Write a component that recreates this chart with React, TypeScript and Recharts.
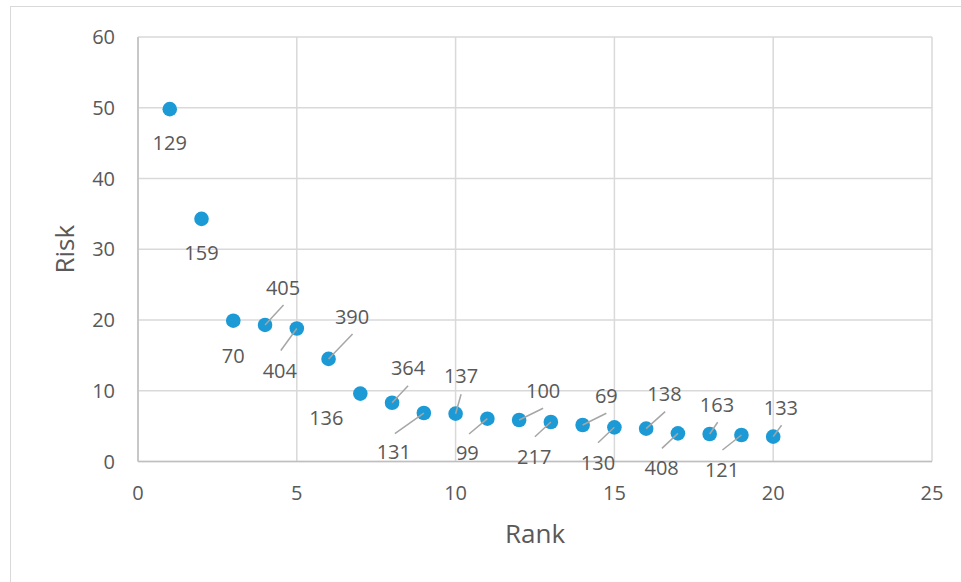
import { ScatterChart, Scatter, XAxis, YAxis, CartesianGrid, Label } from "recharts";

const ranks = [1, 2, 3, 4, 5, 6, 7, 8, 9, 10, 11, 12, 13, 14, 15, 16, 17, 18, 19, 20];
const risks = [49.8, 34.3, 19.9, 19.3, 18.8, 14.5, 9.6, 8.3, 6.85, 6.76, 6.05, 5.87, 5.58, 5.16, 4.83, 4.64, 3.98, 3.89, 3.75, 3.51];
const ids = ["129", "159", "70", "405", "404", "390", "136", "364", "131", "137", "99", "100", "217", "69", "130", "138", "408", "163", "121", "133"];
const xTicks = [0, 5, 10, 15, 20, 25];
const yTicks = [0, 10, 20, 30, 40, 50, 60];

// label placement relative to the marker (Excel moved most of them by hand)
const labelOffsets: [number, number][] = [
  [0, 34], [0, 34.5], [0, 35], [18, -37], [-17, 43], [23.5, -42], [-34, 24], [16, -35], [-30, 39], [5.5, -38],
  [-20, 34], [24, -29], [-16.7, 34.7], [23.7, -29], [-16.4, 35.4], [18.3, -34.7], [-16.3, 34.4], [7.3, -29], [-19.4, 35], [7.7, -29],
];
const leaderEnds: ([number, number] | null)[] = [
  null, null, null, [18.5, -20], [-16, 22], [24, -25], null, [16, -17], [-29, 20.5], [5.5, -19.5],
  [-18.3, 15.3], [24, -11.7], [-16, 14.7], [23.7, -11.7], [-16.4, 15.4], [19, -17], [-16, 15], [8, -11.7], [-19, 15], [8.4, -11.4],
];

const data = ranks.map((r, i) => ({ rank: r, risk: risks[i], id: ids[i] }));

const FONT = "'Open Sans', sans-serif";
const TEXT = "#595959";

function Dot(props: any) {
  const { cx, cy, payload } = props;
  const i = payload.rank - 1;
  const [dx, dy] = labelOffsets[i];
  const le = leaderEnds[i];
  return (
    <g>
      <circle cx={cx} cy={cy} r={7.3} fill="#1c9ad6" />
      {le && (
        <line x1={cx} y1={cy} x2={cx + le[0]} y2={cy + le[1]} stroke="#a6a6a6" strokeWidth={1.5} />
      )}
      <text x={cx + dx} y={cy + dy + 7} textAnchor="middle" fontSize={20} fill={TEXT} fontFamily={FONT}>
        {payload.id}
      </text>
    </g>
  );
}

export default function App() {
  return (
    <div style={{ position: "absolute", left: 0, top: 0, width: 961, height: 582, overflow: "hidden", background: "#fff" }}>
      <div
        style={{
          position: "absolute",
          left: 10,
          top: 6,
          width: 980,
          height: 600,
          border: "1.5px solid #d9d9d9",
        }}
      />
      <div style={{ position: "absolute", left: 0, top: 0 }}>
        <ScatterChart width={961} height={582} margin={{ top: 37, right: 29, bottom: 0, left: 0 }}>
          <CartesianGrid stroke="#d9d9d9" strokeWidth={1.5} />
          <XAxis
            type="number"
            dataKey="rank"
            domain={[0, 25]}
            ticks={xTicks}
            height={120.5}
            tickLine={false}
            tickSize={0}
            tickMargin={24}
            axisLine={{ stroke: "#bfbfbf", strokeWidth: 1.5 }}
            tick={{ fill: TEXT, fontSize: 20, fontFamily: FONT }}
          >
            <Label
              value="Rank"
              content={(p: any) => {
                const vb = p.viewBox;
                return (
                  <text x={vb.x + vb.width / 2} y={543} textAnchor="middle" fontSize={26} fill={TEXT} fontFamily={FONT}>
                    Rank
                  </text>
                );
              }}
            />
          </XAxis>
          <YAxis
            type="number"
            dataKey="risk"
            domain={[0, 60]}
            ticks={yTicks}
            width={138}
            tickLine={false}
            tickSize={0}
            tickMargin={23}
            axisLine={{ stroke: "#bfbfbf", strokeWidth: 1.5 }}
            tick={{ fill: TEXT, fontSize: 20, fontFamily: FONT }}
          >
            <Label
              value="Risk"
              content={(p: any) => {
                const vb = p.viewBox;
                const cy = vb.y + vb.height / 2;
                return (
                  <text
                    x={74}
                    y={cy}
                    textAnchor="middle"
                    transform={`rotate(-90 74 ${cy})`}
                    fontSize={26}
                    fill={TEXT}
                    fontFamily={FONT}
                  >
                    Risk
                  </text>
                );
              }}
            />
          </YAxis>
          <Scatter data={data} shape={<Dot />} isAnimationActive={false} />
        </ScatterChart>
      </div>
    </div>
  );
}
